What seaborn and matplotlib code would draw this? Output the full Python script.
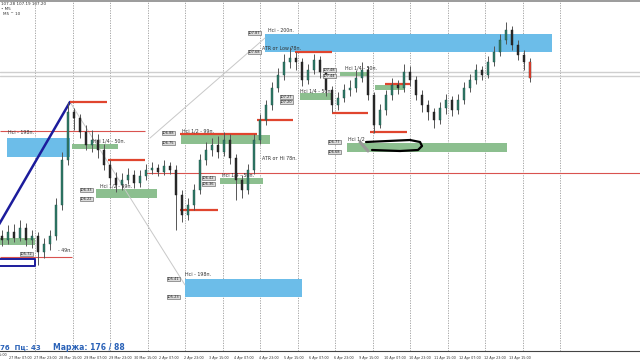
import numpy as np
import pandas as pd
import matplotlib
matplotlib.use("Agg")
import matplotlib.pyplot as plt
import seaborn as sns

# ---------------- data ----------------
close = [105.80, 105.88, 105.82, 105.92, 105.80, 105.84, 105.68, 105.76, 105.84, 106.15,
         106.60, 107.08, 107.02, 106.88, 106.75, 106.80, 106.70, 106.55, 106.42, 106.35,
         106.40, 106.45, 106.37, 106.44, 106.50, 106.52, 106.48, 106.54, 106.50, 106.25,
         106.05, 106.15, 106.30, 106.60, 106.70, 106.75, 106.68, 106.80, 106.62, 106.40,
         106.30, 106.50, 106.80, 107.00, 107.15, 107.32, 107.45, 107.58, 107.62, 107.58,
         107.40, 107.50, 107.60, 107.48, 107.30, 107.15, 107.22, 107.30, 107.32, 107.42,
         107.50, 107.25, 106.95, 107.10, 107.25, 107.35, 107.32, 107.48, 107.40, 107.25,
         107.15, 107.08, 107.00, 107.12, 107.20, 107.10, 107.20, 107.32, 107.40, 107.50,
         107.45, 107.58, 107.68, 107.80, 107.90, 107.75, 107.65, 107.58, 107.42]
high = [105.90, 105.95, 105.96, 106.00, 105.97, 105.90, 105.88, 105.82, 105.90, 106.22,
        106.68, 107.18, 107.12, 107.06, 106.95, 106.90, 106.86, 106.76, 106.60, 106.48,
        106.47, 106.52, 106.50, 106.50, 106.56, 106.58, 106.56, 106.60, 106.58, 106.55,
        106.30, 106.22, 106.36, 106.66, 106.78, 106.82, 106.84, 106.88, 106.86, 106.66,
        106.45, 106.56, 106.86, 107.06, 107.20, 107.38, 107.52, 107.66, 107.73, 107.68,
        107.62, 107.56, 107.66, 107.64, 107.52, 107.34, 107.28, 107.36, 107.40, 107.50,
        107.58, 107.54, 107.28, 107.16, 107.30, 107.42, 107.40, 107.56, 107.54, 107.44,
        107.30, 107.20, 107.12, 107.18, 107.26, 107.24, 107.26, 107.38, 107.46, 107.56,
        107.54, 107.64, 107.74, 107.86, 107.98, 107.94, 107.80, 107.70, 107.62]
low = [105.74, 105.76, 105.78, 105.79, 105.74, 105.72, 105.55, 105.62, 105.70, 105.80,
       106.10, 106.55, 106.90, 106.82, 106.70, 106.68, 106.62, 106.50, 106.36, 106.28,
       106.30, 106.36, 106.32, 106.33, 106.40, 106.46, 106.44, 106.45, 106.46, 105.90,
       105.98, 106.00, 106.10, 106.26, 106.55, 106.64, 106.62, 106.64, 106.56, 106.20,
       106.22, 106.26, 106.46, 106.76, 106.95, 107.10, 107.28, 107.40, 107.52, 107.50,
       107.34, 107.36, 107.46, 107.42, 107.24, 107.08, 107.10, 107.18, 107.24, 107.28,
       107.38, 107.20, 106.87, 106.92, 107.05, 107.20, 107.26, 107.28, 107.34, 107.20,
       107.08, 107.00, 106.92, 106.96, 107.06, 107.04, 107.06, 107.16, 107.28, 107.36,
       107.40, 107.42, 107.54, 107.64, 107.76, 107.70, 107.60, 107.50, 107.38]
open_ = [105.84] + close[:-1]

time_labels = ["26 Mar 15:00", "27 Mar 07:00", "27 Mar 23:00", "28 Mar 15:00", "29 Mar 07:00",
               "29 Mar 23:00", "30 Mar 15:00", "2 Apr 07:00", "2 Apr 23:00", "3 Apr 15:00",
               "4 Apr 07:00", "4 Apr 23:00", "5 Apr 15:00", "6 Apr 07:00", "6 Apr 23:00",
               "9 Apr 15:00", "10 Apr 07:00", "10 Apr 23:00", "11 Apr 15:00", "12 Apr 07:00",
               "12 Apr 23:00", "13 Apr 15:00"]

# zones: (bar_from, bar_to, price_top, price_bottom)
blue_zones = [(0.83, 11.33, 106.82, 106.63),
              (43.83, 91.67, 107.86, 107.68),
              (30.5, 50.0, 105.41, 105.23)]
green_zones = [(-0.33, 5.5, 105.82, 105.75),
               (15.67, 25.83, 106.31, 106.22),
               (29.83, 44.67, 106.85, 106.76),
               (36.33, 43.5, 106.42, 106.36),
               (11.67, 19.33, 106.76, 106.71),
               (49.67, 55.17, 107.27, 107.20),
               (56.33, 61.0, 107.48, 107.44),
               (57.5, 84.17, 106.77, 106.68),
               (62.17, 67.17, 107.35, 107.30)]
# red levels: (bar_from, bar_to, price)
red_levels = [(11.33, 17.5, 107.18), (17.67, 23.83, 106.60), (29.67, 36.0, 106.10),
              (29.67, 42.5, 106.86), (42.5, 48.5, 107.00), (48.83, 55.0, 107.68),
              (55.0, 61.0, 107.07), (61.33, 67.5, 106.88), (63.83, 68.0, 107.36)]
thin_red_levels = [(23.83, 106.4, 106.47), (-0.4, 23.83, 106.89), (-0.4, 11.67, 105.63)]
gray_levels = [107.48, 107.44]

labels = [("Нсі - 198п.", 1.0, 106.87), ("Нсі 1/4 - 50п.", 15.17, 106.79),
          ("Нсі 1/2 - 99п.", 16.33, 106.34), ("- 49п.", 9.33, 105.69),
          ("Нсі - 200п.", 44.33, 107.90), ("ATR от Low 78п.", 43.33, 107.72),
          ("Нсі 1/2 - 99п.", 30.0, 106.89), ("ATR от Hi 78п.", 43.33, 106.61),
          ("Нсі 1/4 - 50п.", 36.67, 106.45), ("Нсі - 198п.", 30.5, 105.45),
          ("Нсі 1/4 - 50п.", 49.67, 107.29), ("Нсі 1/4 - 50п.", 57.17, 107.52),
          ("Нсі 1/2", 57.67, 106.81)]
price_boxes = [("106.33", 13.0, 106.30), ("106.22", 13.0, 106.21), ("105.72", 3.0, 105.66),
               ("107.87", 41.0, 107.87), ("107.68", 41.0, 107.68), ("106.88", 26.67, 106.87),
               ("106.75", 26.67, 106.77), ("106.42", 33.33, 106.42), ("106.36", 33.33, 106.36),
               ("105.41", 27.5, 105.41), ("105.23", 27.5, 105.23), ("107.27", 46.33, 107.23),
               ("107.20", 46.33, 107.18), ("107.48", 53.5, 107.50), ("107.44", 53.5, 107.44),
               ("106.77", 54.33, 106.78), ("106.68", 54.33, 106.68)]

# ---------------- plot ----------------
sns.set_theme(style="white")
plt.rcParams['font.family'] = ['DejaVu Sans']

df = pd.DataFrame({"o": open_, "h": high, "l": low, "c": close})
df["i"] = np.arange(len(df))

fig = plt.figure(figsize=(6.4, 3.6), dpi=100)
ax = fig.add_axes([0, 9 / 360, 1, 350 / 360])
ax.set_facecolor("white")

# vertical dotted grid
for gx in 5.5 + 6.25 * np.arange(15):
    ax.axvline(gx, color="#9a9a9a", lw=0.6, ls=(0, (1.5, 1.5)), zorder=0)

for y in gray_levels:
    ax.axhline(y, color="#cfcfcf", lw=1.0, zorder=1)

for x0, x1, t, b in blue_zones:
    ax.add_patch(plt.Rectangle((x0, b), x1 - x0, t - b, color="#6cbde9", lw=0, zorder=1))
for x0, x1, t, b in green_zones:
    ax.add_patch(plt.Rectangle((x0, b), x1 - x0, t - b, color="#8cbf8f", lw=0, zorder=1))

for x0, x1, y in thin_red_levels:
    ax.hlines(y, x0, x1, color="#d9534f", lw=0.8, zorder=2)
for x0, x1, y in red_levels:
    ax.hlines(y, x0, x1, color="#e0452e", lw=1.6, zorder=4)

# trend / helper lines
ax.plot([-2, 11.33], [105.80, 107.18], color="#1c1c9c", lw=1.8, zorder=3)
ax.plot([-0.4, 5.5, 5.5, -0.4], [105.61, 105.61, 105.54, 105.54], color="#1c1c9c", lw=1.4, zorder=3)
ax.plot([11.33, 30.5], [107.18, 105.35], color="#c8c8c8", lw=0.7, zorder=1)
ax.plot([24.67, 43.83], [106.82, 107.82], color="#c8c8c8", lw=0.7, zorder=1)

# candles
bull = df[df.c >= df.o]
bear = df[df.c < df.o]
ax.vlines(df.i, df.l, df.h, color="#555555", lw=0.7, zorder=5)
ax.bar(bull.i, bull.c - bull.o, bottom=bull.o, width=0.42, color="#2f7a68",
       edgecolor="#1f4f44", lw=0.3, zorder=6)
ax.bar(bear.i, bear.c - bear.o, bottom=bear.o, width=0.42, color="#2b2b2b",
       edgecolor="#1a1a1a", lw=0.3, zorder=6)
last = df.iloc[[-1]]
ax.bar(last.i, last.c - last.o, bottom=last.o, width=0.42, color="#d23a2a", lw=0, zorder=7)

# hand-drawn lasso
ax.plot([60.67, 68.0, 69.67, 70.0, 69.33, 66.33, 61.67],
        [106.78, 106.80, 106.78, 106.74, 106.70, 106.69, 106.70], color="black", lw=1.6, zorder=8)
ax.plot([59.67, 61.0], [106.78, 106.69], color="#999999", lw=2.2, zorder=8)

for t, x, y in labels:
    ax.text(x, y, t, fontsize=3.4, color="#333333", ha="left", va="center", zorder=9)
for t, x, y in price_boxes:
    ax.text(x, y, t, fontsize=2.6, color="#222222", ha="left", va="center", zorder=9,
            bbox=dict(boxstyle="square,pad=0.12", fc="#dcdcdc", ec="#555555", lw=0.4))

# axes cosmetics
for s in ["left", "right"]:
    ax.spines[s].set_visible(False)
ax.spines["top"].set_color("#8a8a8a")
ax.spines["top"].set_linewidth(1.2)
ax.spines["bottom"].set_color("#444444")
ax.spines["bottom"].set_linewidth(0.8)
ax.set_yticks([])
tick_pos = [(9 + 25 * k - 2) / 6 for k in range(0, len(time_labels) - 1)]
ax.set_xticks(tick_pos)
ax.set_xticklabels(time_labels[1:], fontsize=2.45, color="#333333", ha="left")
ax.tick_params(axis="x", direction="out", length=2.5, width=0.5, color="#444444", pad=1)
ax.set_xlim(-2 / 6, 638 / 6)
ax.set_ylim(108.20 - 3.51, 108.20 - 0.01)
# first (cut-off) label at left edge
fig.text(-16 / 640, 1 - 355.5 / 360, time_labels[0], fontsize=2.45, color="#333333",
         ha="left", va="center")

fig.text(0.002, 1 - 4 / 360, "107.28 107.19 107.20", fontsize=3.0, color="#333333", va="center")
fig.text(0.002, 1 - 9 / 360, "• M5", fontsize=3.0, color="#333333", va="center")
fig.text(0.004, 1 - 14 / 360, "M5 ^ 10", fontsize=3.0, color="#333333", va="center")
fig.text(0.0, 1 - 347 / 360, "76  Пц: 43", fontsize=5, color="#2a62b8", va="center", fontweight="bold")
fig.text(53 / 640, 1 - 347 / 360, "Маржа: 176 / 88", fontsize=5.5, color="#2a62b8",
         va="center", fontweight="bold")

fig.savefig("out.png", dpi=100)
